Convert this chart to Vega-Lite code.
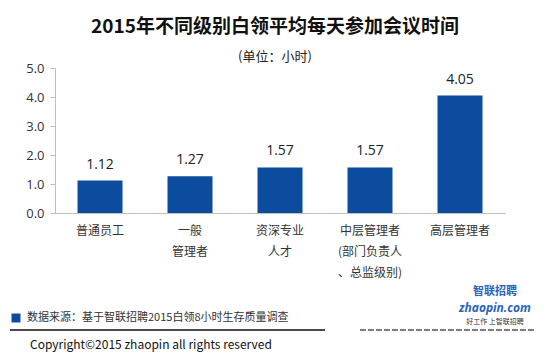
{
  "$schema": "https://vega.github.io/schema/vega-lite/v6.json",
  "width": 450,
  "height": 145,
  "autosize": "none",
  "padding": {"left": 55, "top": 68, "right": 45, "bottom": 142},
  "background": "white",
  "config": {
    "font": "Noto Sans CJK SC",
    "text": {"font": "Noto Sans CJK SC"},
    "mark": {"font": "Noto Sans CJK SC"},
    "view": {"stroke": null}
  },
  "data": {
    "values": [
      {"level": "普通员工", "hours": 1.12},
      {"level": "一般|管理者", "hours": 1.27},
      {"level": "资深专业|人才", "hours": 1.57},
      {"level": "中层管理者|(部门负责人|、总监级别)", "hours": 1.57},
      {"level": "高层管理者", "hours": 4.05}
    ]
  },
  "encoding": {
    "x": {
      "field": "level", "type": "nominal", "sort": null,
      "scale": {"paddingInner": 0, "paddingOuter": 0},
      "axis": {
        "title": null, "labelAngle": 0, "ticks": false,
        "domainColor": "#BFBFBF", "domainWidth": 1,
        "labelExpr": "split(datum.label, '|')",
        "labelFont": "Noto Sans CJK SC",
        "labelFontSize": 12, "labelColor": "#333333",
        "labelLineHeight": 21, "labelPadding": 12
      }
    },
    "y": {
      "field": "hours", "type": "quantitative",
      "scale": {"domain": [0, 5]},
      "axis": {
        "title": null, "grid": false, "values": [0, 1, 2, 3, 4, 5],
        "labelOverlap": false,
        "format": ".1f", "domainColor": "#BFBFBF", "tickColor": "#BFBFBF",
        "tickSize": 5, "labelFontSize": 13, "labelColor": "#333333",
        "labelPadding": 6, "labelFont": "Open Sans"
      }
    }
  },
  "layer": [
    {
      "mark": {"type": "bar", "color": "#0B4C9E", "width": 45}
    },
    {
      "mark": {"type": "text", "dy": -12, "baseline": "alphabetic", "fontSize": 14, "color": "#222222", "font": "Open Sans"},
      "encoding": {
        "text": {"field": "hours", "type": "quantitative", "format": ".2f"}
      }
    },
    {
      "data": {"values": [{}]},
      "mark": {"type": "text", "font": "Noto Sans CJK SC", "fontSize": 19, "fontWeight": "bold", "color": "#111111", "align": "center", "baseline": "middle"},
      "encoding": {"x": {"value": 220}, "y": {"value": -41}, "text": {"datum": "2015年不同级别白领平均每天参加会议时间"}}
    },
    {
      "data": {"values": [{}]},
      "mark": {"type": "text", "font": "Noto Sans CJK SC", "fontSize": 13, "fontWeight": "normal", "color": "#222222", "align": "center", "baseline": "middle"},
      "encoding": {"x": {"value": 220}, "y": {"value": -11}, "text": {"datum": "(单位：小时)"}}
    },
    {
      "data": {"values": [{}]},
      "mark": {"type": "point", "shape": "square", "filled": true, "size": 80, "color": "#0B4C9E", "opacity": 1},
      "encoding": {"x": {"value": -39}, "y": {"value": 250}}
    },
    {
      "data": {"values": [{}]},
      "mark": {"type": "text", "font": "Noto Sans CJK SC", "fontSize": 11, "fontWeight": "normal", "color": "#333333", "align": "left", "baseline": "middle"},
      "encoding": {"x": {"value": -28}, "y": {"value": 250}, "text": {"datum": "数据来源：基于智联招聘2015白领8小时生存质量调查"}}
    },
    {
      "data": {"values": [{}]},
      "mark": {"type": "rule", "color": "#111111", "strokeWidth": 1.5},
      "encoding": {"x": {"value": -45}, "x2": {"value": 270}, "y": {"value": 262}}
    },
    {
      "data": {"values": [{}]},
      "mark": {"type": "rule", "color": "#555555", "strokeWidth": 1.5, "strokeDash": [6, 2]},
      "encoding": {"x": {"value": 305}, "x2": {"value": 480}, "y": {"value": 262}}
    },
    {
      "data": {"values": [{}]},
      "mark": {"type": "text", "font": "Noto Sans CJK SC", "fontSize": 12, "fontWeight": "normal", "color": "#111111", "align": "left", "baseline": "middle"},
      "encoding": {"x": {"value": -25}, "y": {"value": 277}, "text": {"datum": "Copyright©2015 zhaopin all rights reserved"}}
    },
    {
      "data": {"values": [{}]},
      "mark": {"type": "text", "font": "Noto Sans CJK SC", "fontSize": 11, "fontWeight": "bold", "color": "#2A63B8", "align": "center", "baseline": "middle"},
      "encoding": {"x": {"value": 440}, "y": {"value": 224}, "text": {"datum": "智联招聘"}}
    },
    {
      "data": {"values": [{}]},
      "mark": {"type": "text", "font": "Open Sans", "fontSize": 12, "fontWeight": "bold", "fontStyle": "italic", "color": "#2A63B8", "align": "center", "baseline": "middle"},
      "encoding": {"x": {"value": 440}, "y": {"value": 240}, "text": {"datum": "zhaopin.com"}}
    },
    {
      "data": {"values": [{}]},
      "mark": {"type": "text", "font": "Noto Sans CJK SC", "fontSize": 7, "fontWeight": "normal", "color": "#333333", "align": "center", "baseline": "middle"},
      "encoding": {"x": {"value": 440}, "y": {"value": 254}, "text": {"datum": "好工作 上智联招聘"}}
    }
  ]
}
